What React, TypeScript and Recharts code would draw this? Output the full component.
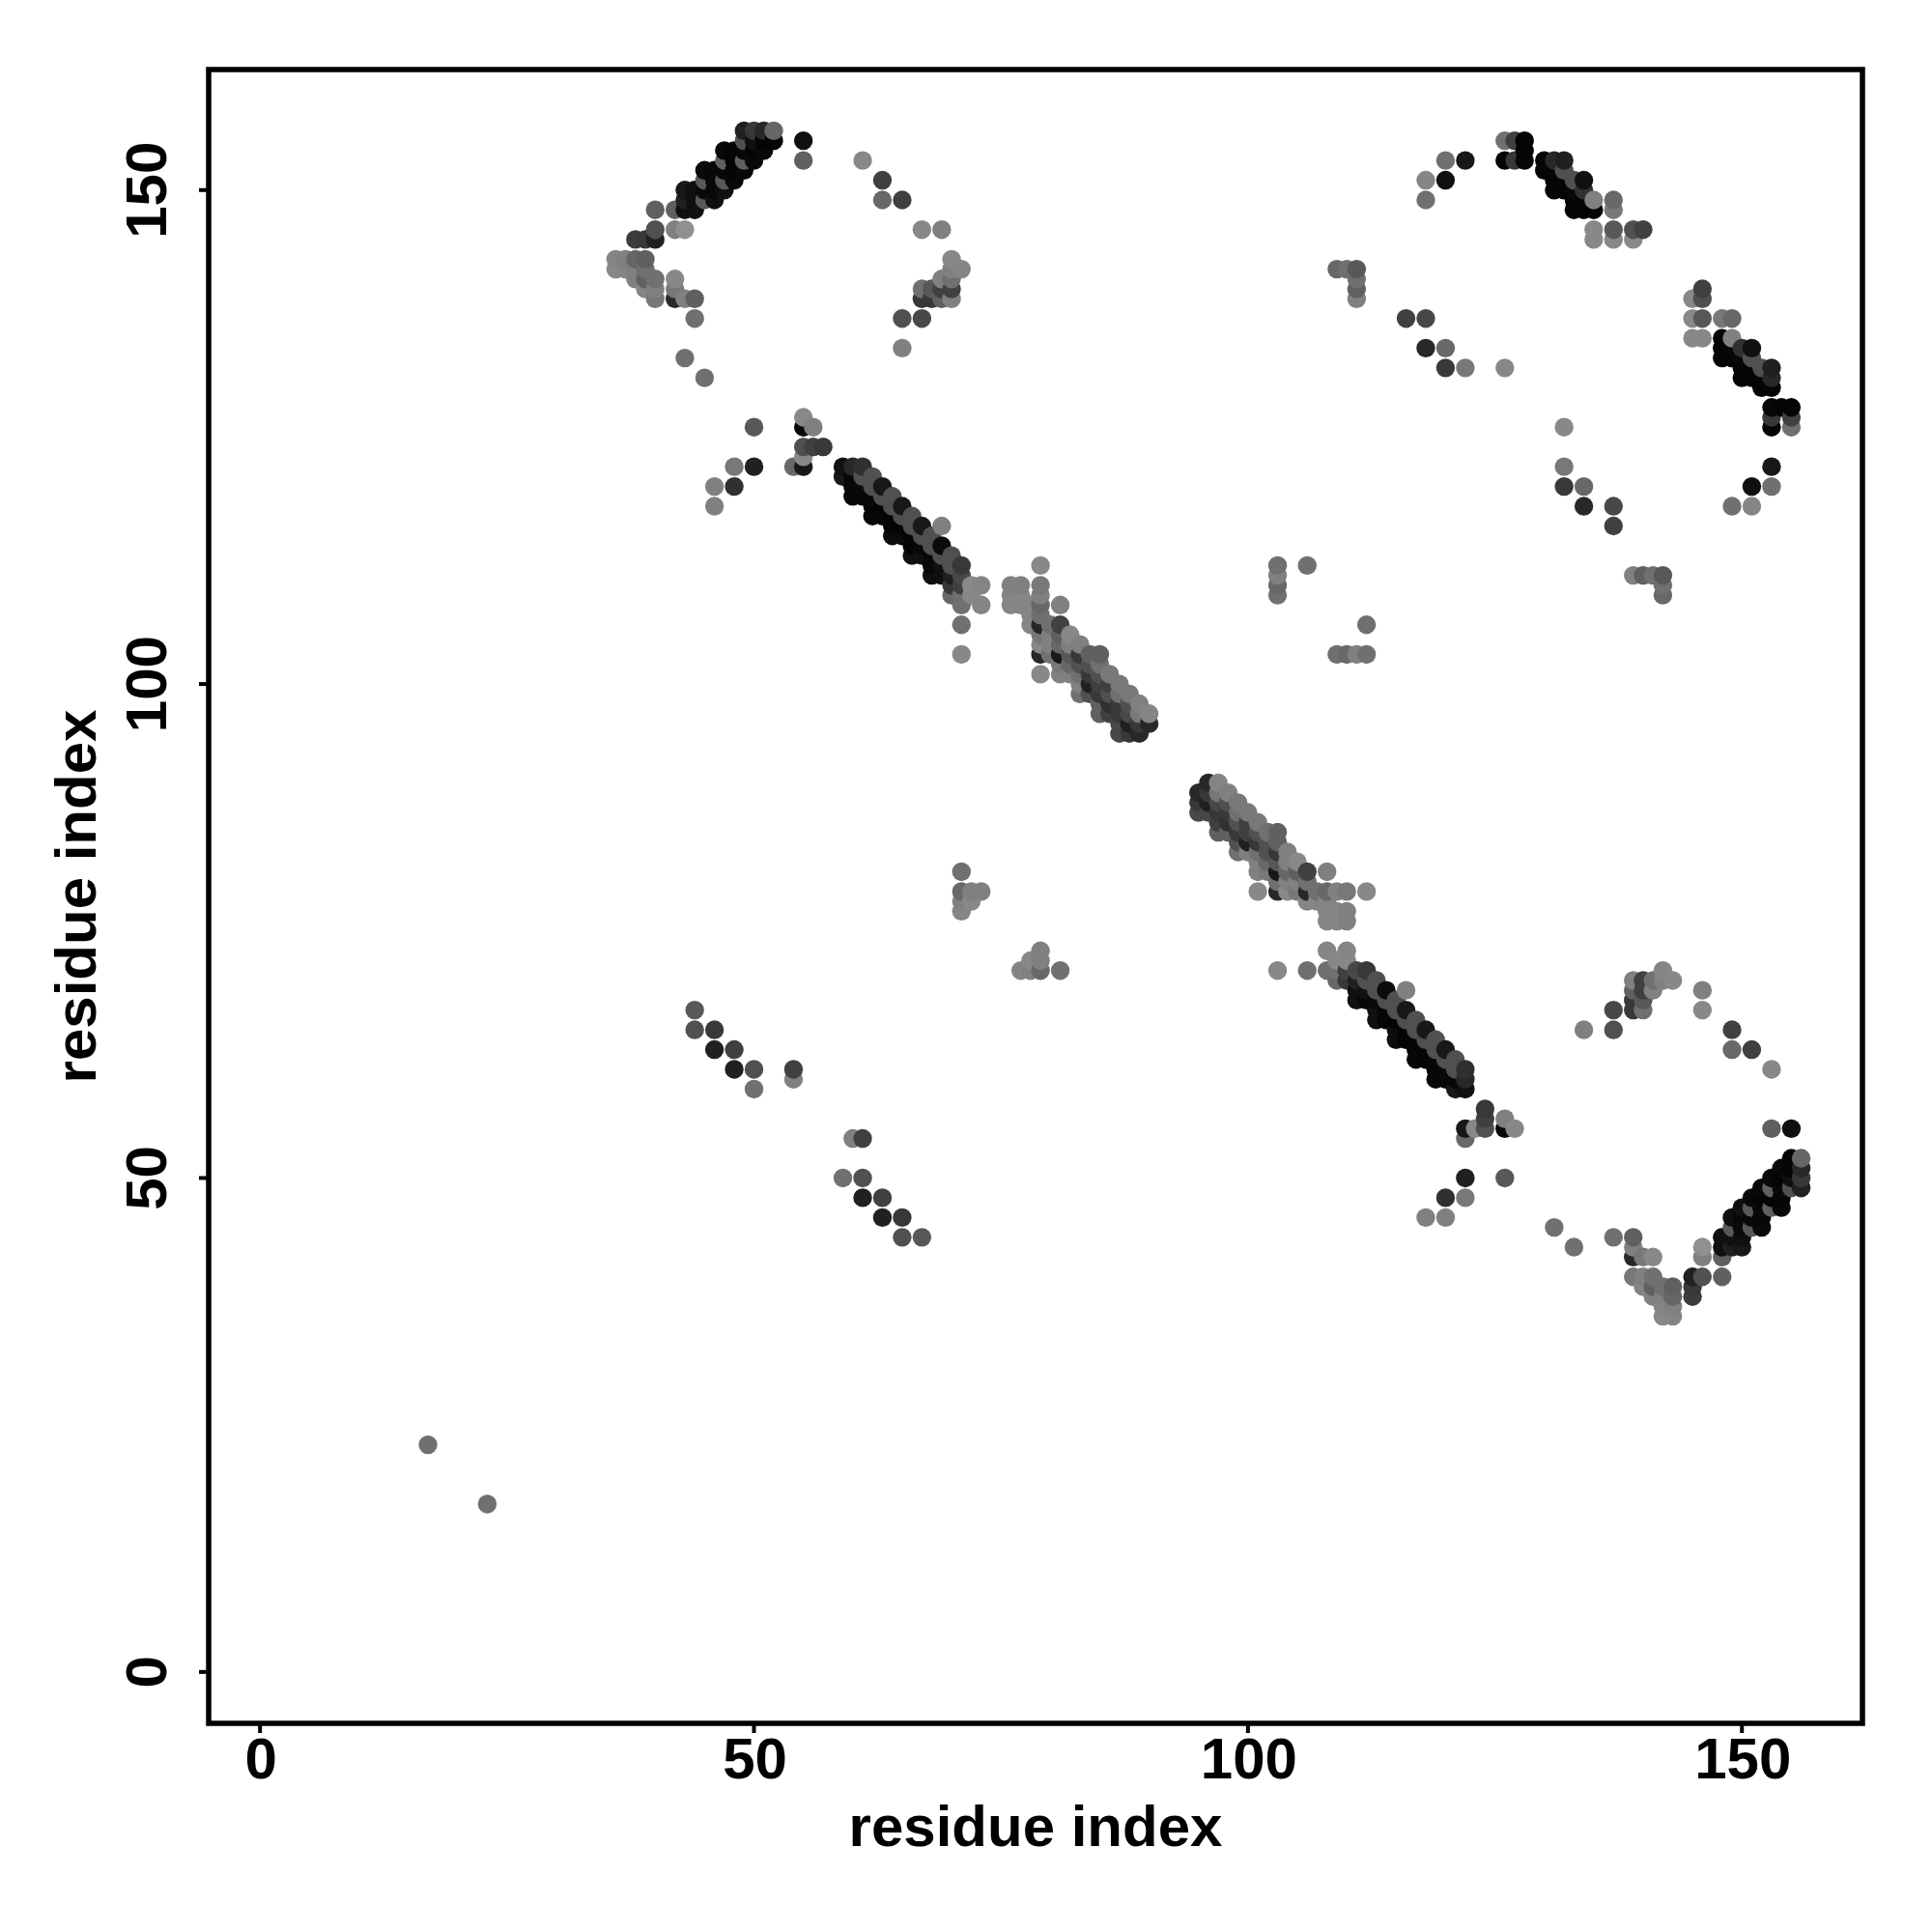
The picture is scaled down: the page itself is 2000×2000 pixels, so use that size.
import { ScatterChart, Scatter, XAxis, YAxis, ReferenceArea } from 'recharts';

// [residue i, residue j, grey level 0-255], i < j. The map is symmetric.
const isolated = [[17, 23, 0x70]];

const topLeftSheet = [
  [43, 150, 0x18], [43, 149, 0x20], [43, 148, 0x10],
  [44, 150, 0x10], [44, 149, 0x10], [44, 148, 0x10],
  [45, 152, 0x0a], [45, 151, 0x58], [45, 150, 0x0a], [45, 149, 0x58],
  [46, 152, 0x08], [46, 151, 0x08], [46, 150, 0x08], [46, 149, 0x10],
  [47, 154, 0x08], [47, 153, 0x60], [47, 152, 0x08], [47, 151, 0x58], [47, 150, 0x10],
  [48, 154, 0x05], [48, 153, 0x05], [48, 152, 0x05], [48, 151, 0x08],
  [49, 156, 0x20], [49, 155, 0x50], [49, 154, 0x08], [49, 153, 0x60], [49, 152, 0x08],
  [50, 156, 0x38], [50, 155, 0x10], [50, 154, 0x05], [50, 153, 0x08],
  [51, 156, 0x28], [51, 155, 0x05], [51, 154, 0x08],
  [52, 156, 0x66], [52, 155, 0x05],
];

const topLeftArc = [
  [40, 148, 0x60], [42, 148, 0x60], [40, 146, 0x50], [42, 146, 0x80], [43, 146, 0x90],
  [38, 145, 0x3c], [39, 145, 0x38], [40, 145, 0x20],
  [36, 143, 0x85], [37, 143, 0x80], [38, 143, 0x66], [39, 143, 0x60],
  [36, 142, 0x88], [37, 142, 0x85], [38, 142, 0x80], [39, 142, 0x70],
  [38, 141, 0x80], [39, 141, 0x60], [40, 141, 0x70], [42, 141, 0x88],
  [39, 140, 0x85], [40, 140, 0x80], [42, 140, 0x78],
  [40, 139, 0x78], [42, 139, 0x28], [43, 139, 0x80], [44, 139, 0x60],
  [44, 137, 0x70], [43, 133, 0x70], [45, 131, 0x70],
  [55, 155, 0x10], [55, 153, 0x60], [61, 153, 0x88], [63, 151, 0x40], [63, 149, 0x68],
  [65, 149, 0x40], [67, 146, 0x88], [69, 146, 0x80],
  [70, 143, 0x88], [70, 142, 0x80], [71, 142, 0x85], [69, 141, 0x80], [70, 141, 0x70],
  [67, 140, 0x70], [68, 140, 0x58], [69, 140, 0x40], [70, 140, 0x40],
  [67, 139, 0x38], [68, 139, 0x38], [69, 139, 0x60], [70, 139, 0x80],
  [65, 137, 0x50], [67, 137, 0x48], [65, 134, 0x80],
];

const middleLeft = [
  [50, 126, 0x58], [55, 127, 0x88], [55, 126, 0x08], [56, 126, 0x80],
  [55, 124, 0x50], [56, 124, 0x40], [57, 124, 0x38], [55, 123, 0x88],
  [48, 122, 0x78], [50, 122, 0x20], [54, 122, 0x68], [55, 122, 0x18],
  [46, 120, 0x80], [48, 120, 0x30], [46, 118, 0x80],
];

const helixBand = [
  [59, 122, 0x10], [59, 121, 0x18],
  [60, 122, 0x28], [60, 121, 0x08], [60, 120, 0x08], [60, 119, 0x08],
  [61, 122, 0x30], [61, 121, 0x50], [61, 120, 0x0a], [61, 119, 0x08],
  [62, 121, 0x50], [62, 120, 0x50], [62, 119, 0x08], [62, 118, 0x05], [62, 117, 0x08],
  [63, 120, 0x18], [63, 119, 0x50], [63, 118, 0x05], [63, 117, 0x08],
  [64, 119, 0x50], [64, 118, 0x50], [64, 117, 0x05], [64, 116, 0x05], [64, 115, 0x0c],
  [65, 118, 0x18], [65, 117, 0x50], [65, 116, 0x05], [65, 115, 0x0c],
  [66, 117, 0x50], [66, 116, 0x50], [66, 115, 0x05], [66, 114, 0x05], [66, 113, 0x10],
  [67, 116, 0x18], [67, 115, 0x50], [67, 114, 0x08], [67, 113, 0x10],
  [68, 115, 0x50], [68, 114, 0x50], [68, 113, 0x08], [68, 112, 0x08], [68, 111, 0x10],
  [69, 116, 0x80], [69, 114, 0x0c], [69, 113, 0x50], [69, 112, 0x10], [69, 111, 0x10],
  [70, 113, 0x50], [70, 112, 0x50], [70, 111, 0x20], [70, 110, 0x38], [70, 109, 0x68],
  [71, 112, 0x38], [71, 111, 0x48], [71, 110, 0x40], [71, 109, 0x70], [71, 108, 0x70],
  [72, 110, 0x88], [72, 109, 0x88], [73, 110, 0x85], [73, 108, 0x85],
  [71, 106, 0x70], [71, 103, 0x88],
];

const helixBandLower = [
  [79, 112, 0x88], [76, 110, 0x80], [77, 110, 0x80], [79, 110, 0x78],
  [76, 109, 0x85], [77, 109, 0x85], [79, 109, 0x80],
  [76, 108, 0x85], [77, 108, 0x85], [78, 108, 0x85], [79, 108, 0x68], [81, 108, 0x80],
  [78, 107, 0x85], [79, 107, 0x70],
  [78, 106, 0x85], [79, 106, 0x28], [80, 106, 0x70], [81, 106, 0x40],
  [79, 105, 0x78], [80, 105, 0x80], [81, 105, 0x60], [82, 105, 0x88],
  [79, 104, 0x88], [80, 104, 0x80], [81, 104, 0x68], [82, 104, 0x80], [83, 104, 0x80],
  [79, 103, 0x28], [80, 103, 0x70], [81, 103, 0x18], [82, 103, 0x58], [83, 103, 0x38], [84, 103, 0x60], [85, 103, 0x60],
  [81, 102, 0x78], [82, 102, 0x68], [83, 102, 0x50], [84, 102, 0x50], [85, 102, 0x70],
  [79, 101, 0x88], [81, 101, 0x80], [82, 101, 0x80], [83, 101, 0x70], [84, 101, 0x38], [85, 101, 0x50], [86, 101, 0x78],
  [83, 100, 0x80], [84, 100, 0x20], [85, 100, 0x40], [86, 100, 0x40], [87, 100, 0x78],
  [83, 99, 0x70], [84, 99, 0x50], [85, 99, 0x38], [86, 99, 0x50], [87, 99, 0x70], [88, 99, 0x78],
  [85, 98, 0x60], [86, 98, 0x30], [87, 98, 0x38], [88, 98, 0x50], [89, 98, 0x80],
  [85, 97, 0x60], [86, 97, 0x40], [87, 97, 0x38], [88, 97, 0x48], [89, 97, 0x78], [90, 97, 0x85],
  [87, 96, 0x48], [88, 96, 0x20], [89, 96, 0x38], [90, 96, 0x28],
  [87, 95, 0x48], [88, 95, 0x38], [89, 95, 0x28],
];

const helixSide = [
  [103, 112, 0x70], [103, 111, 0x80], [103, 110, 0x68], [103, 109, 0x70], [106, 112, 0x70],
  [71, 81, 0x70], [71, 79, 0x68], [72, 79, 0x80], [73, 79, 0x80],
  [71, 78, 0x80], [72, 78, 0x88], [71, 77, 0x85],
];

const lowerArc = [
  [44, 67, 0x58], [44, 65, 0x50], [46, 65, 0x38], [46, 63, 0x20], [48, 63, 0x40],
  [48, 61, 0x20], [50, 61, 0x50], [50, 59, 0x70], [54, 61, 0x40], [54, 60, 0x80],
];

const topRightArc = [
  [109, 142, 0x68], [110, 142, 0x70], [111, 142, 0x58], [111, 141, 0x70], [111, 140, 0x60], [111, 139, 0x80],
  [116, 137, 0x40], [118, 137, 0x48], [118, 134, 0x28], [120, 134, 0x68],
  [120, 132, 0x38], [122, 132, 0x78], [126, 132, 0x88],
  [120, 153, 0x70], [122, 153, 0x18], [118, 151, 0x85], [120, 151, 0x10], [118, 149, 0x70],
];

const topRightSheet = [
  [126, 155, 0x70], [127, 155, 0x40], [128, 155, 0x05], [128, 154, 0x05],
  [126, 153, 0x05], [127, 153, 0x38], [128, 153, 0x08],
  [130, 153, 0x05], [131, 153, 0x28], [132, 153, 0x20],
  [130, 152, 0x05], [131, 152, 0x05], [132, 152, 0x50],
  [131, 151, 0x05], [132, 151, 0x05], [133, 151, 0x50], [134, 151, 0x10],
  [131, 150, 0x05], [132, 150, 0x05], [133, 150, 0x08], [134, 150, 0x30],
  [133, 149, 0x05], [134, 149, 0x05], [135, 149, 0x80], [137, 149, 0x68],
  [133, 148, 0x05], [134, 148, 0x05], [135, 148, 0x05], [137, 148, 0x78],
  [135, 146, 0x88], [137, 146, 0x58], [139, 146, 0x50], [140, 146, 0x40],
  [135, 145, 0x88], [137, 145, 0x88], [139, 145, 0x88],
];

const axisTicks = [0, 50, 100, 150];
const axisDomain = [-5.2, 162.2];
const axisTitle = 'residue index';

const contacts = [
  ...isolated, ...topLeftSheet, ...topLeftArc, ...middleLeft, ...helixBand, ...helixBandLower,
  ...helixSide, ...lowerArc, ...topRightArc, ...topRightSheet,
];

// both halves of the map, drawn in order of x then y
const points = contacts
  .flatMap(([i, j, level]) => [{ x: i, y: j, level }, { x: j, y: i, level }])
  .sort((a, b) => a.x - b.x || a.y - b.y);

const labelFont = { fontFamily: '"Liberation Sans", Arial, sans-serif', fontWeight: 700, fontSize: 60, fill: '#000' };

function ContactDot({ cx, cy, payload }: any) {
  const v = payload?.level ?? 0;
  return <circle cx={cx} cy={cy} r={9.7} fill={`rgb(${v},${v},${v})`} />;
}

function YTick({ y, payload }: any) {
  return (
    <text x={172} y={y} transform={`rotate(-90 172 ${y})`} textAnchor="middle" {...labelFont}>
      {payload.value}
    </text>
  );
}

function XTick({ x, payload }: any) {
  return (
    <text x={x + 1} y={1841} textAnchor="middle" {...labelFont}>
      {payload.value}
    </text>
  );
}

function XTitle({ viewBox }: any) {
  return (
    <text x={viewBox.x + viewBox.width / 2} y={1911} textAnchor="middle" {...labelFont}>
      {axisTitle}
    </text>
  );
}

function YTitle({ viewBox }: any) {
  const cy = viewBox.y + viewBox.height / 2;
  return (
    <text x={99} y={cy} transform={`rotate(-90 99 ${cy})`} textAnchor="middle" {...labelFont}>
      {axisTitle}
    </text>
  );
}

export default function App() {
  return (
    <div style={{ position: 'absolute', left: 0, top: 0, width: 2000, height: 2000, background: '#fff' }}>
      <ScatterChart width={2000} height={2000} margin={{ top: 72, right: 72, bottom: 0, left: 0 }}>
        <XAxis type="number" dataKey="x" domain={axisDomain} ticks={axisTicks} height={216} allowDataOverflow
          axisLine={false} interval={0} tickSize={10} tickMargin={0}
          tickLine={{ stroke: '#000', strokeWidth: 4 }} tick={<XTick />}
          label={<XTitle />} />
        <YAxis type="number" dataKey="y" domain={axisDomain} ticks={axisTicks} width={216} allowDataOverflow
          axisLine={false} interval={0} tickSize={10} tickMargin={0}
          tickLine={{ stroke: '#000', strokeWidth: 4 }} tick={<YTick />}
          label={<YTitle />} />
        <ReferenceArea x1={axisDomain[0]} x2={axisDomain[1]} y1={axisDomain[0]} y2={axisDomain[1]}
          fill="none" stroke="#000" strokeWidth={5.5} ifOverflow="visible" />
        <Scatter data={points} isAnimationActive={false} shape={<ContactDot />} />
      </ScatterChart>
    </div>
  );
}
